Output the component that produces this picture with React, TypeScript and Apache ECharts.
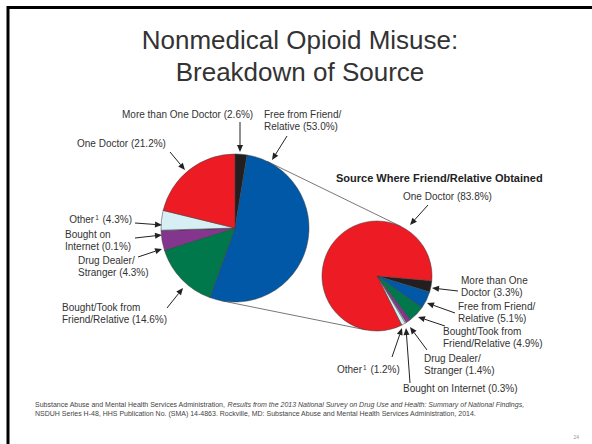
import React, { useEffect, useRef } from "react";
import * as echarts from "echarts";

// ---- data ----
const categories = [
  "More than One Doctor",
  "Free from Friend/Relative",
  "Bought/Took from Friend/Relative",
  "Drug Dealer/Stranger",
  "Bought on Internet",
  "Other¹",
  "One Doctor",
];
const overallPct = [2.6, 53.0, 14.6, 4.3, 0.1, 4.3, 21.2];
const friendPct = [3.3, 5.1, 4.9, 1.4, 0.3, 1.2, 83.8];
const sliceColors = ["#231F20", "#0058A7", "#00784B", "#84368F", "#FFFFFF", "#D6EEF4", "#ED1C24"];

const leftLabelLines = [
  ["More than One Doctor {v}"],
  ["Free from Friend/", "Relative {v}"],
  ["Bought/Took from", "Friend/Relative {v}"],
  ["Drug Dealer/", "Stranger {v}"],
  ["Bought on", "Internet {v}"],
  ["Other¹ {v}"],
  ["One Doctor {v}"],
];
const rightLabelLines = [
  ["More than One", "Doctor {v}"],
  ["Free from Friend/", "Relative {v}"],
  ["Bought/Took from", "Friend/Relative {v}"],
  ["Drug Dealer/", "Stranger {v}"],
  ["Bought on Internet {v}"],
  ["Other¹ {v}"],
  ["One Doctor {v}"],
];

const titleLines = ["Nonmedical Opioid Misuse:", "Breakdown of Source"];
const subTitle = "Source Where Friend/Relative Obtained";
const sourceLine1a = "Substance Abuse and Mental Health Services Administration, ";
const sourceLine1b = "Results from the 2013 National Survey on Drug Use and Health: Summary of National Findings,";
const sourceLine2 =
  "NSDUH Series H-48, HHS Publication No. (SMA) 14-4863. Rockville, MD: Substance Abuse and Mental Health Services Administration, 2014.";
const pageNumber = "24";

// ---- layout ----
const L = { cx: 235, cy: 228, r: 74 };
const R = { cx: 377, cy: 276, r: 55 };

type Lay = { x: number; y: number; align: "left" | "right"; arrow: number[] };
const leftLayout: Lay[] = [
  { x: 122, y: 114, align: "left", arrow: [240, 122, 240, 152] },
  { x: 264, y: 114, align: "left", arrow: [287, 136, 272, 160] },
  { x: 62, y: 307, align: "left", arrow: [167, 308, 183, 288] },
  { x: 78, y: 260, align: "left", arrow: [138, 257, 162, 249] },
  { x: 65, y: 234, align: "left", arrow: [135, 238, 162, 235] },
  { x: 132, y: 219, align: "right", arrow: [135, 223, 162, 225] },
  { x: 77, y: 143, align: "left", arrow: [170, 152, 185, 170] },
];
const rightLayout: Lay[] = [
  { x: 461, y: 280, align: "left", arrow: [458, 291, 432, 288] },
  { x: 458, y: 306, align: "left", arrow: [455, 313, 427, 303] },
  { x: 443, y: 331, align: "left", arrow: [445, 326, 418, 317] },
  { x: 424, y: 358, align: "left", arrow: [427, 350, 410, 327] },
  { x: 403, y: 388, align: "left", arrow: [410, 383, 406, 328] },
  { x: 337, y: 369, align: "left", arrow: [392, 357, 402, 328] },
  { x: 403, y: 196, align: "left", arrow: [428, 205, 410, 225] },
];

const FONT = '"Liberation Sans", Arial, sans-serif';
const TXT = "#333333";

function arrowEls(a: number[]) {
  const [x1, y1, x2, y2] = a;
  const len = Math.hypot(x2 - x1, y2 - y1);
  const ux = (x2 - x1) / len;
  const uy = (y2 - y1) / len;
  const hl = 7;
  const hw = 3;
  const bx = x2 - ux * hl;
  const by = y2 - uy * hl;
  return [
    {
      type: "line",
      z: 10,
      shape: { x1, y1, x2: bx, y2: by },
      style: { stroke: "#222", lineWidth: 1 },
    },
    {
      type: "polygon",
      z: 10,
      shape: {
        points: [
          [x2, y2],
          [bx - uy * hw, by + ux * hw],
          [bx + uy * hw, by - ux * hw],
        ],
      },
      style: { fill: "#222" },
    },
  ];
}

function richText(t: string) {
  // turn the superscript marker into a small raised token
  return "{n|" + t.split("¹").join("}{s|1}{n|") + "}";
}

function labelEls(lines: string[][], values: number[], layout: Lay[]) {
  const els: any[] = [];
  lines.forEach((ls, i) => {
    const lay = layout[i];
    ls.forEach((t, j) => {
      els.push({
        type: "text",
        z: 10,
        x: lay.x,
        y: lay.y + j * 12,
        style: {
          text: richText(t.replace("{v}", `(${values[i].toFixed(1)}%)`)),
          align: lay.align,
          verticalAlign: "middle",
          rich: {
            n: { font: `10px ${FONT}`, fill: TXT, lineHeight: 12, verticalAlign: "middle" },
            s: { font: `6.5px ${FONT}`, fill: TXT, lineHeight: 12, verticalAlign: "top", padding: [1, 1, 0, 1] },
          },
        },
      });
    });
    els.push(...arrowEls(lay.arrow));
  });
  return els;
}

function tangentLines() {
  const dx = R.cx - L.cx;
  const dy = R.cy - L.cy;
  const d = Math.hypot(dx, dy);
  const base = Math.atan2(dy, dx);
  const phi = Math.acos((L.r - R.r) / d);
  return [1, -1].map((s) => {
    const a = base + s * phi;
    const nx = Math.cos(a);
    const ny = Math.sin(a);
    return {
      type: "line",
      z: 0,
      shape: { x1: L.cx + L.r * nx, y1: L.cy + L.r * ny, x2: R.cx + R.r * nx, y2: R.cy + R.r * ny },
      style: { stroke: "#555", lineWidth: 0.8 },
    };
  });
}

function pieSeries(values: number[], c: { cx: number; cy: number; r: number }, startAngle: number) {
  return {
    type: "pie",
    center: [c.cx, c.cy],
    radius: c.r,
    startAngle,
    clockwise: true,
    silent: true,
    z: 2,
    label: { show: false },
    labelLine: { show: false },
    emphasis: { disabled: true },
    itemStyle: { borderColor: "#3a3a3a", borderWidth: 0.5 },
    data: values.map((v, i) => ({ name: categories[i], value: v, itemStyle: { color: sliceColors[i] } })),
  };
}

export default function App() {
  const ref = useRef<HTMLDivElement>(null);
  useEffect(() => {
    if (!ref.current) return;
    const chart = echarts.init(ref.current, undefined, { renderer: "svg" });
    const elements: any[] = [
      {
        type: "rect",
        z: 0,
        shape: { x: 8, y: 7.5, width: 700, height: 600 },
        style: { fill: "none", stroke: "#000", lineWidth: 3 },
      },
      ...titleLines.map((t, i) => ({
        type: "text",
        z: 10,
        x: 300,
        y: 40 + i * 32,
        style: { text: t, font: `26px ${FONT}`, fill: "#333", align: "center", verticalAlign: "middle" },
      })),
      {
        type: "text",
        z: 10,
        x: 336,
        y: 178,
        style: { text: subTitle, font: `bold 11px ${FONT}`, fill: "#222", align: "left", verticalAlign: "middle" },
      },
      ...tangentLines(),
      ...labelEls(leftLabelLines, overallPct, leftLayout),
      ...labelEls(rightLabelLines, friendPct, rightLayout),
      {
        type: "text",
        z: 10,
        x: 35,
        y: 404,
        style: {
          text: `{a|${sourceLine1a}}{b|${sourceLine1b}}`,
          align: "left",
          verticalAlign: "middle",
          rich: {
            a: { font: `7px ${FONT}`, fill: "#444" },
            b: { font: `italic 7px ${FONT}`, fill: "#444" },
          },
        },
      },
      {
        type: "text",
        z: 10,
        x: 35,
        y: 413.5,
        style: { text: sourceLine2, font: `7px ${FONT}`, fill: "#444", align: "left", verticalAlign: "middle" },
      },
      {
        type: "text",
        z: 10,
        x: 579,
        y: 437,
        style: { text: pageNumber, font: `5px ${FONT}`, fill: "#999", align: "right", verticalAlign: "middle" },
      },
    ];
    chart.setOption({
      animation: false,
      backgroundColor: "#ffffff",
      series: [pieSeries(overallPct, L, 90), pieSeries(friendPct, R, -5)],
      graphic: { elements },
    });
    return () => chart.dispose();
  }, []);
  return (
    <div
      ref={ref}
      style={{ position: "fixed", left: 0, top: 0, width: 592, height: 444 }}
    />
  );
}
